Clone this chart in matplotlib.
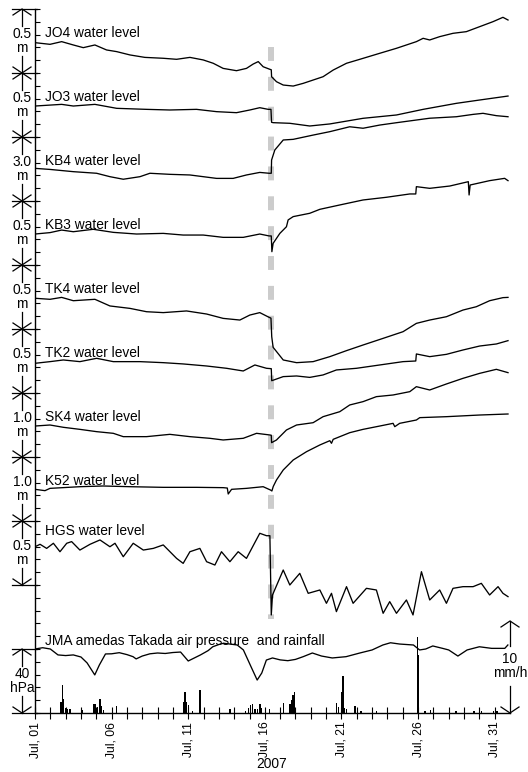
import matplotlib.pyplot as plt

plt.rcParams['font.family'] = ['Liberation Sans', 'DejaVu Sans']

# time axis: day of July 2007 (fractional), levels are relative values in metres
quake_day = 16.43

jo4_t = [1.00, 1.98, 2.74, 3.50, 4.15, 4.91, 5.67, 6.33, 7.20, 8.17, 9.37, 10.24, 11.11, 11.98,
         12.63, 13.28, 14.15, 14.80, 15.24, 15.57, 15.89, 16.28, 16.42, 16.44, 16.76, 17.20, 17.85,
         18.50, 19.15, 19.80, 20.46, 21.33, 22.20, 23.50, 24.59, 25.89, 26.33, 26.76, 27.41, 28.28,
         29.15, 30.02, 30.89, 31.54, 31.87]
jo4_v = [0.237, 0.224, 0.245, 0.219, 0.198, 0.219, 0.180, 0.167, 0.141, 0.122, 0.115, 0.107, 0.122,
         0.102, 0.076, 0.036, 0.018, 0.036, 0.070, 0.089, 0.049, 0.031, 0.025, -0.029, -0.068, -0.094,
         -0.102, -0.081, -0.055, -0.029, 0.023, 0.076, 0.107, 0.154, 0.193, 0.245, 0.271, 0.258, 0.284,
         0.310, 0.323, 0.362, 0.401, 0.435, 0.414]

jo3_t = [1.00, 2.74, 3.50, 4.91, 6.33, 8.28, 9.80, 11.54, 12.85, 14.15, 15.02, 15.67, 16.22, 16.40,
         16.44, 16.54, 17.63, 18.93, 20.24, 22.41, 24.59, 26.33, 28.50, 30.02, 31.87]
jo3_v = [0.242, 0.255, 0.242, 0.255, 0.224, 0.216, 0.211, 0.216, 0.198, 0.190, 0.211, 0.229, 0.216,
         0.216, 0.115, 0.112, 0.107, 0.086, 0.102, 0.146, 0.172, 0.216, 0.263, 0.289, 0.320]

kb4_t = [1.00, 1.98, 3.50, 5.02, 5.89, 6.76, 7.85, 8.50, 9.80, 11.11, 12.85, 13.93, 14.80, 15.67,
         16.28, 16.42, 16.44, 16.65, 17.20, 17.85, 19.15, 20.24, 21.54, 22.41, 23.50, 24.59, 26.76,
         28.50, 29.59, 30.24, 31.11, 31.87]
kb4_v = [1.53, 1.48, 1.375, 1.30, 1.14, 1.02, 1.14, 1.30, 1.25, 1.22, 1.06, 1.06, 1.22, 1.34, 1.30,
         1.30, 1.92, 2.39, 2.86, 2.89, 3.09, 3.25, 3.48, 3.41, 3.56, 3.67, 3.88, 3.95, 4.06, 4.11,
         4.00, 3.95]

kb3_t = [1.00, 1.98, 2.74, 3.50, 4.80, 6.11, 7.63, 9.37, 10.67, 11.98, 13.28, 14.59, 15.67, 16.28,
         16.42, 16.46, 16.54, 16.98, 17.41, 17.52, 17.85, 18.93, 19.59, 20.89, 22.41, 23.93, 25.46,
         25.85, 25.89, 26.76, 28.07, 29.28, 29.33, 29.40, 30.67, 31.65, 31.87]
kb3_v = [0.242, 0.253, 0.273, 0.260, 0.279, 0.255, 0.242, 0.247, 0.234, 0.234, 0.216, 0.216, 0.242,
         0.227, 0.227, 0.104, 0.169, 0.247, 0.299, 0.352, 0.378, 0.404, 0.435, 0.469, 0.508, 0.529,
         0.555, 0.555, 0.612, 0.599, 0.617, 0.651, 0.547, 0.625, 0.659, 0.677, 0.659]

tk4_t = [1.00, 1.98, 2.74, 3.50, 4.91, 5.89, 7.20, 8.28, 9.37, 10.89, 12.20, 13.28, 14.37, 15.02,
         15.67, 16.28, 16.40, 16.45, 16.54, 17.20, 18.07, 19.15, 20.24, 21.33, 22.41, 23.72, 25.02,
         25.89, 26.76, 27.85, 28.93, 29.80, 30.67, 31.54, 31.87]
tk4_v = [0.240, 0.232, 0.247, 0.221, 0.232, 0.180, 0.161, 0.135, 0.128, 0.141, 0.117, 0.083, 0.070,
         0.109, 0.128, 0.091, 0.085, -0.060, -0.143, -0.242, -0.263, -0.255, -0.216, -0.169, -0.125,
         -0.073, -0.021, 0.044, 0.070, 0.096, 0.148, 0.174, 0.221, 0.245, 0.247]

tk2_t = [1.00, 1.98, 2.85, 3.93, 5.02, 6.11, 7.85, 9.37, 10.67, 12.20, 13.50, 14.59, 15.35, 16.11,
         16.42, 16.45, 17.20, 18.07, 18.93, 19.80, 20.67, 21.98, 23.50, 25.02, 25.85, 25.89, 26.76,
         27.85, 28.93, 30.02, 31.11, 31.87]
tk2_v = [0.232, 0.245, 0.258, 0.245, 0.271, 0.245, 0.245, 0.237, 0.227, 0.211, 0.193, 0.172, 0.219,
         0.193, 0.190, 0.096, 0.128, 0.133, 0.122, 0.141, 0.180, 0.193, 0.219, 0.245, 0.250, 0.305,
         0.284, 0.302, 0.336, 0.367, 0.383, 0.409]

sk4_t = [1.00, 1.98, 2.85, 3.93, 5.02, 6.11, 6.76, 8.28, 9.80, 11.11, 12.41, 13.28, 14.59, 15.46,
         16.33, 16.42, 16.44, 16.76, 17.41, 18.07, 19.15, 19.80, 20.89, 21.54, 22.41, 23.28, 24.37,
         25.46, 25.89, 26.76, 27.85, 28.93, 30.02, 31.11, 31.87]
sk4_v = [0.484, 0.500, 0.464, 0.432, 0.396, 0.370, 0.318, 0.318, 0.354, 0.318, 0.292, 0.266, 0.292,
         0.370, 0.344, 0.340, 0.224, 0.266, 0.422, 0.500, 0.536, 0.630, 0.708, 0.813, 0.865, 0.943,
         0.969, 1.021, 1.099, 1.047, 1.141, 1.229, 1.307, 1.370, 1.318]

k52_t = [1.00, 1.65, 1.98, 3.93, 5.46, 7.20, 9.37, 11.54, 13.28, 13.55, 13.61, 13.83, 14.80, 15.89,
         16.37, 16.46, 16.55, 16.76, 17.20, 17.85, 18.72, 19.59, 20.24, 20.35, 20.46, 21.54, 22.41,
         23.50, 24.37, 24.48, 24.80, 25.89, 26.11, 27.85, 30.02, 31.87]
k52_v = [0.495, 0.474, 0.510, 0.536, 0.547, 0.536, 0.526, 0.526, 0.521, 0.515, 0.422, 0.495, 0.510,
         0.536, 0.484, 0.469, 0.540, 0.641, 0.797, 0.953, 1.083, 1.188, 1.255, 1.214, 1.276, 1.380,
         1.432, 1.484, 1.526, 1.474, 1.526, 1.578, 1.615, 1.630, 1.656, 1.672]

hgs_t = [1.00, 1.33, 1.76, 2.20, 2.63, 3.07, 3.39, 3.93, 4.59, 5.24, 5.89, 6.22, 6.76, 7.41, 8.07,
         8.72, 9.37, 10.24, 10.67, 11.11, 11.76, 12.20, 12.74, 13.17, 13.72, 14.26, 14.80, 15.67,
         16.11, 16.33, 16.42, 16.50, 17.20, 17.63, 18.28, 18.83, 19.59, 20.02, 20.35, 20.67, 21.33,
         21.76, 22.63, 23.28, 23.72, 24.15, 24.59, 25.24, 25.67, 26.22, 26.76, 27.41, 27.85, 28.28,
         28.93, 29.59, 30.13, 30.67, 31.22, 31.54, 31.87]
hgs_v = [0.299, 0.318, 0.286, 0.326, 0.260, 0.326, 0.339, 0.273, 0.318, 0.352, 0.299, 0.326, 0.221,
         0.326, 0.273, 0.286, 0.313, 0.208, 0.169, 0.260, 0.286, 0.182, 0.156, 0.260, 0.182, 0.260,
         0.208, 0.404, 0.385, 0.385, -0.234, -0.078, 0.117, 0.000, 0.091, -0.065, -0.039, -0.143,
         -0.065, -0.208, -0.013, -0.143, -0.026, -0.039, -0.221, -0.130, -0.221, -0.117, -0.234,
         0.104, -0.117, -0.039, -0.143, -0.026, -0.013, -0.013, 0.013, -0.078, -0.013, -0.065, -0.091]

# JMA AMeDAS Takada
pressure_t = [1.0, 1.5, 2.0, 2.5, 3.0, 3.5, 4.0, 4.4, 4.9, 5.2, 5.6, 6.0, 6.5, 7.0, 7.4, 7.6, 8.0,
              8.5, 9.0, 9.5, 10.0, 10.5, 11.0, 11.4, 11.8, 12.3, 12.6, 13.0, 13.3, 13.8, 14.2, 14.6,
              15.1, 15.5, 15.8, 16.1, 16.5, 17.0, 17.5, 18.0, 18.5, 19.1, 19.7, 20.4, 21.3, 22.2,
              23.0, 23.7, 24.2, 24.8, 25.7, 26.1, 26.5, 26.96, 27.6, 28.0, 28.6, 29.2, 30.0, 30.8,
              31.66, 31.86]
pressure_hpa = [1010.0, 1010.8, 1010.0, 1006.3, 1005.9, 1006.3, 1005.0, 1001.3, 993.8, 1000.0,
                1006.9, 1007.0, 1007.7, 1006.5, 1005.2, 1003.8, 1005.6, 1007.0, 1007.5, 1007.2,
                1007.8, 1008.1, 1002.5, 1004.4, 1006.3, 1009.0, 1011.4, 1012.8, 1013.6, 1013.0,
                1012.5, 1009.4, 998.9, 990.6, 995.0, 1003.1, 1004.4, 1003.2, 1002.7, 1003.5, 1005.2,
                1007.5, 1005.6, 1004.4, 1005.2, 1007.5, 1009.4, 1012.5, 1013.9, 1013.1, 1012.5,
                1009.4, 1010.0, 1011.9, 1010.4, 1009.4, 1005.6, 1009.4, 1011.4, 1010.4, 1010.4,
                1012.5]

rain_t = [2.70, 2.78, 2.87, 2.98, 3.13, 3.28, 4.07, 4.85, 4.94, 5.07, 5.24, 5.35, 5.46, 6.33, 10.68,
          10.79, 10.90, 11.03, 11.27, 11.77, 13.73, 14.75, 14.92, 15.08, 15.21, 15.36, 15.51, 15.69,
          15.80, 16.29, 17.21, 17.65, 17.75, 17.84, 17.93, 18.01, 20.69, 20.80, 21.02, 21.10, 21.19,
          21.34, 21.89, 22.28, 23.04, 23.30, 25.98, 26.04, 26.46, 26.83, 28.48, 29.66, 30.16, 30.92,
          31.14]
rain_mm = [1.2, 3.0, 1.5, 0.5, 0.4, 0.4, 0.3, 1.0, 1.0, 0.6, 1.5, 0.8, 0.3, 0.8, 1.2, 2.3, 1.2, 0.9,
           0.2, 2.5, 0.4, 0.2, 0.5, 0.9, 1.0, 0.4, 0.4, 1.0, 0.5, 0.4, 1.1, 1.0, 1.4, 2.0, 2.3, 0.4,
           1.1, 0.6, 2.3, 4.0, 0.5, 0.4, 0.8, 0.2, 0.2, 0.2, 8.3, 6.3, 0.2, 0.3, 0.2, 0.2, 0.2, 0.2,
           0.2]

# name, panel base, metres per panel unit, scale text, label height in panel, series
panels = [
    ('JO4 water level', 10, 0.5, '0.5', 0.625, jo4_t, jo4_v),
    ('JO3 water level', 9, 0.5, '0.5', 0.625, jo3_t, jo3_v),
    ('KB4 water level', 8, 3.0, '3.0', 0.625, kb4_t, kb4_v),
    ('KB3 water level', 7, 0.5, '0.5', 0.625, kb3_t, kb3_v),
    ('TK4 water level', 6, 0.5, '0.5', 0.625, tk4_t, tk4_v),
    ('TK2 water level', 5, 0.5, '0.5', 0.625, tk2_t, tk2_v),
    ('SK4 water level', 4, 1.0, '1.0', 0.625, sk4_t, sk4_v),
    ('K52 water level', 3, 1.0, '1.0', 0.625, k52_t, k52_v),
    ('HGS water level', 2, 0.5, '0.5', 0.84, hgs_t, hgs_v),
]
p_ref, p_span = 1010.0, 40.0      # hPa at top of the pressure scale, hPa per panel
rain_span = 10.0 / 1.4375         # mm/h per panel unit

fig = plt.figure(figsize=(5.28, 7.72), dpi=100)
ax = fig.add_axes([35 / 528, 59 / 772, 475 / 528, 704 / 772])
ax.set_xlim(1, 32)
ax.set_ylim(0, 11)
for s in ('top', 'right'):
    ax.spines[s].set_visible(False)
for s in ('left', 'bottom'):
    ax.spines[s].set_linewidth(1.0)

# earthquake marker
ax.plot([quake_day, quake_day], [10.41, 1.47], color='#cccccc', lw=4.3,
        dashes=(2.33, 2.67), dash_capstyle='butt', zorder=1)

for name, base, span, stxt, ly, t, v in panels:
    ax.plot(t, [base + x / span for x in v], color='black', lw=0.95, zorder=3)
    ax.text(0.021, base + ly, name, transform=ax.get_yaxis_transform(),
            ha='left', va='center', fontsize=9.9)

ax.plot(pressure_t, [1 + (p - p_ref) / p_span for p in pressure_hpa], color='black', lw=0.95, zorder=3)
ax.bar(rain_t, [r / rain_span for r in rain_mm], width=0.09, color='black', zorder=3)
ax.text(0.021, 1.125, 'JMA amedas Takada air pressure  and rainfall',
        transform=ax.get_yaxis_transform(), ha='left', va='center', fontsize=9.9)

# day ticks
days = list(range(1, 32))
ax.set_xticks(days)
ax.set_xticklabels([f'Jul, {d:02d}' if (d - 1) % 5 == 0 else '' for d in days],
                   rotation=90, fontsize=8.7)
ax.tick_params(axis='x', direction='inout', length=8.5, width=0.8, pad=2)
ax.set_yticks([i * 0.2 for i in range(56)])
ax.set_yticklabels([])
ax.tick_params(axis='y', direction='in', length=3.6, width=0.8)
fig.text(272 / 528, 1 / 772, '2007', ha='center', va='bottom', fontsize=9.9)

# scale bars
yx = ax.get_yaxis_transform()
hw, hh = 9 / 475, 6 / 64


def scale_bar(xf, y0, y1, text, half_gap, yc=None):
    kw = dict(color='black', lw=0.9, transform=yx, clip_on=False)
    ym = (y0 + y1) / 2 if yc is None else yc
    ax.plot([xf, xf], [y1, ym + half_gap], **kw)
    ax.plot([xf, xf], [ym - half_gap, y0], **kw)
    ax.plot([xf - hw, xf, xf + hw], [y1 - hh, y1, y1 - hh], **kw)
    ax.plot([xf - hw, xf, xf + hw], [y0 + hh, y0, y0 + hh], **kw)
    ax.text(xf, ym, text, transform=yx, ha='center', va='center', fontsize=9.9,
            linespacing=1.05, multialignment='center')


xl = -13 / 475
for name, base, span, stxt, ly, t, v in panels:
    scale_bar(xl, base, base + 1, stxt + '\nm', 0.24)
scale_bar(xl, 0, 1, '40\nhPa', 0.24)
scale_bar(1.0, 0, 1.4375, '10\nmm/h', 0.31, yc=0.734)

for b in [0, 1] + list(range(2, 12)):
    ax.plot([-23 / 475, 2 / 475], [b, b], color='black', lw=0.9,
            transform=yx, clip_on=False)

fig.savefig('out.png', dpi=100)
